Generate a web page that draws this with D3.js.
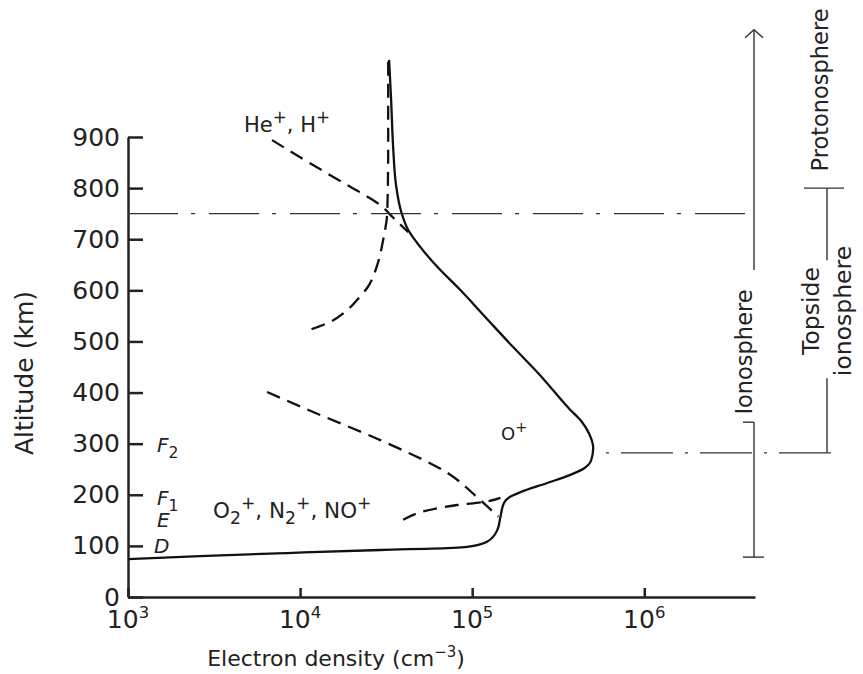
<!DOCTYPE html>
<html><head><meta charset="utf-8">
<script src="https://cdn.jsdelivr.net/npm/d3@7"></script>
<style>
body{margin:0;background:#fff}
svg{display:block}
text{font-family:"DejaVu Sans",sans-serif;fill:#222}
</style>
</head><body>
<svg id="c" width="863" height="674"></svg>
<script>
// ---------- data ----------
const xTickValues = [1e3, 1e4, 1e5, 1e6];
const xTickExponents = ["3", "4", "5", "6"];
const yTickValues = [0, 100, 200, 300, 400, 500, 600, 700, 800, 900];

// total electron density (solid)
const totalDensity = [3.29e4, 3.38e4, 3.48e4, 3.61e4, 3.86e4, 4.25e4, 4.99e4, 6.27e4, 8.51e4, 1.22e5, 1.73e5, 2.48e5, 3.72e5, 4.31e5, 4.79e5, 5.05e5, 4.92e5, 4.48e5, 3.72e5, 2.73e5, 1.90e5, 1.66e5, 1.53e5, 1.46e5, 1.40e5, 1.22e5, 9.35e4, 7.76e4, 2.92e4, 8.40e3, 2.62e3, 1.0e3];
const totalAltitude = [1051, 973, 875, 806, 755, 718, 685, 646, 601, 544, 489, 434, 366, 344, 319, 292, 268, 252, 239, 223, 205, 196, 184, 157, 131, 108, 98, 96, 92, 86, 80, 74];

// He+, H+ (dashed, upper left)
const lightIonDensity = [6.87e3, 1.19e4, 1.88e4, 2.92e4, 3.48e4, 4.25e4];
const lightIonAltitude = [894, 845, 806, 767, 742, 714];

// O+ upper branch (dashed, near vertical)
const oxygenUpperDensity = [3.25e4, 3.25e4, 3.21e4, 3.04e4, 2.81e4, 2.48e4, 2.14e4, 1.83e4, 1.49e4, 1.14e4];
const oxygenUpperAltitude = [1047, 875, 753, 699, 650, 607, 581, 558, 538, 523];

// O+ lower branch (dashed, diagonal)
const oxygenLowerDensity = [6.43e3, 1.19e4, 2.92e4, 7.16e4, 1.11e5, 1.42e5];
const oxygenLowerAltitude = [401, 362, 307, 243, 190, 157];

// O2+, N2+, NO+ (dashed)
const molecularDensity = [3.97e4, 8.18e4, 1.16e5, 1.46e5];
const molecularAltitude = [151, 180, 186, 194];

// region boundaries (km)
const boundaryAltitudes = [750, 282];

// ---------- layout ----------
const svg = d3.select("#c");
const x = d3.scaleLog().domain([1e3, 4.4e6]).range([128, 755]);
const y = d3.scaleLinear().domain([0, 900]).range([597, 137]);

function rich(g, px, py, parts, size, opts = {}) {
  const t = g.append("text")
    .attr("x", px).attr("y", py)
    .attr("font-size", size)
    .attr("text-anchor", opts.anchor || "start");
  if (opts.italic) t.attr("font-style", "italic");
  const ss = opts.small || 0.68;
  let shift = 0;
  parts.forEach(([s, k]) => {
    const target = k === "sup" ? -0.42 * size : k === "sub" ? 0.3 * size : 0;
    const ts = t.append("tspan")
      .attr("dy", target - shift)
      .attr("font-size", k ? size * ss : size)
      .text(s);
    if (k && opts.uprightSmall) ts.attr("font-style", "normal");
    shift = target;
  });
  return t;
}

// ---------- axes ----------
const yAxis = d3.axisLeft(y).tickValues(yTickValues).tickSizeInner(-15).tickSizeOuter(0).tickPadding(8);
const gy = svg.append("g").attr("transform", `translate(${x.range()[0]},0)`).call(yAxis);
gy.selectAll("path, line").attr("stroke", "#222").attr("stroke-width", 2.5);
gy.selectAll("text").attr("font-size", 25).attr("font-family", "DejaVu Sans").attr("fill", "#222").attr("dy", "0.32em");

const xAxis = d3.axisBottom(x).tickValues(xTickValues).tickSizeInner(-9).tickSizeOuter(0).tickFormat(() => "");
const gx = svg.append("g").attr("transform", `translate(0,${y(0)})`).call(xAxis);
gx.selectAll("path, line").attr("stroke", "#222").attr("stroke-width", 2.5);

const labels = svg.append("g");
xTickValues.forEach((v, i) => {
  rich(labels, x(v), 628, [["10"], [xTickExponents[i], "sup"]], 25, { anchor: "middle", small: 0.66 });
});

rich(labels, 336, 666, [["Electron density (cm"], ["\u22123", "sup"], [")"]], 22, { anchor: "middle" });
labels.append("text").attr("transform", "translate(33,373) rotate(-90)")
  .attr("text-anchor", "middle").attr("font-size", 25).text("Altitude (km)");

// ---------- curves ----------
const line = d3.line().x(d => x(d[0])).y(d => y(d[1])).curve(d3.curveMonotoneY);
const zip = (a, b) => a.map((v, i) => [v, b[i]]);
const curves = svg.append("g").attr("fill", "none").attr("stroke", "#111").attr("stroke-width", 2.3);

curves.append("path").attr("d", line(zip(oxygenUpperDensity, oxygenUpperAltitude))).attr("stroke-dasharray", "14,8");
curves.append("path").attr("d", line(zip(lightIonDensity, lightIonAltitude))).attr("stroke-dasharray", "14,8");
curves.append("path").attr("d", line(zip(oxygenLowerDensity, oxygenLowerAltitude))).attr("stroke-dasharray", "14,8");
curves.append("path").attr("d", line(zip(molecularDensity, molecularAltitude))).attr("stroke-dasharray", "14,8");
curves.append("path").attr("d", line(zip(totalDensity, totalAltitude)));

// ---------- boundaries & region brackets ----------
const ann = svg.append("g").attr("fill", "none").attr("stroke", "#333").attr("stroke-width", 1.4);
const xEnd = x.range()[1];
ann.append("line").attr("x1", x.range()[0]).attr("x2", xEnd - 8)
  .attr("y1", y(boundaryAltitudes[0])).attr("y2", y(boundaryAltitudes[0]))
  .attr("stroke-dasharray", "50,13,4,14");
ann.append("line").attr("x1", x(5.1e5) + 12).attr("x2", xEnd + 86)
  .attr("y1", y(boundaryAltitudes[1])).attr("y2", y(boundaryAltitudes[1]))
  .attr("stroke-dasharray", "52,12,3,12").attr("stroke-dashoffset", 64);

// ionosphere arrow column
const ax = xEnd - 1;
ann.append("line").attr("x1", ax).attr("x2", ax).attr("y1", y(1110)).attr("y2", y(640));
ann.append("path").attr("d", `M${ax - 9},${y(1110) + 8}L${ax},${y(1110)}L${ax + 9},${y(1110) + 8}`);
ann.append("line").attr("x1", ax).attr("x2", ax).attr("y1", y(342)).attr("y2", y(78));
ann.append("line").attr("x1", ax - 11).attr("x2", ax).attr("y1", y(342)).attr("y2", y(342));
ann.append("line").attr("x1", ax - 11).attr("x2", ax + 10).attr("y1", y(78)).attr("y2", y(78));

// topside / protonosphere column
const bx = xEnd + 72;
ann.append("line").attr("x1", bx - 23).attr("x2", bx + 17).attr("y1", y(800)).attr("y2", y(800));
ann.append("line").attr("x1", bx).attr("x2", bx).attr("y1", y(800)).attr("y2", y(659));
ann.append("line").attr("x1", bx).attr("x2", bx).attr("y1", y(428)).attr("y2", y(282));

// region labels
labels.append("text").attr("transform", `translate(${xEnd - 3},352) rotate(-90)`)
  .attr("text-anchor", "middle").attr("font-size", 22.5).text("Ionosphere");
labels.append("text").attr("transform", `translate(${bx + 1},90) rotate(-90)`)
  .attr("text-anchor", "middle").attr("font-size", 22.5).text("Protonosphere");
labels.append("text").attr("transform", `translate(${bx - 8},311) rotate(-90)`)
  .attr("text-anchor", "middle").attr("font-size", 23.5).text("Topside");
labels.append("text").attr("transform", `translate(${bx + 24},311) rotate(-90)`)
  .attr("text-anchor", "middle").attr("font-size", 23.5).text("ionosphere");

// ion labels
rich(labels, 244, 132, [["He"], ["+", "sup"], [", H"], ["+", "sup"]], 21, { small: 0.8 });
rich(labels, 501, 440, [["O"], ["+", "sup"]], 18, { small: 0.8 });
rich(labels, 213, 518, [["O"], ["2", "sub"], ["+", "sup"], [", N"], ["2", "sub"], ["+", "sup"], [", NO"], ["+", "sup"]], 21.5, { small: 0.8 });

// layer labels
rich(labels, 157, 452, [["F"], ["2", "sub"]], 20, { italic: true, small: 0.78, uprightSmall: true });
rich(labels, 157, 505, [["F"], ["1", "sub"]], 20, { italic: true, small: 0.78, uprightSmall: true });
rich(labels, 157, 527, [["E"]], 20, { italic: true });
rich(labels, 154, 553, [["D"]], 20, { italic: true });
</script>
</body></html>
